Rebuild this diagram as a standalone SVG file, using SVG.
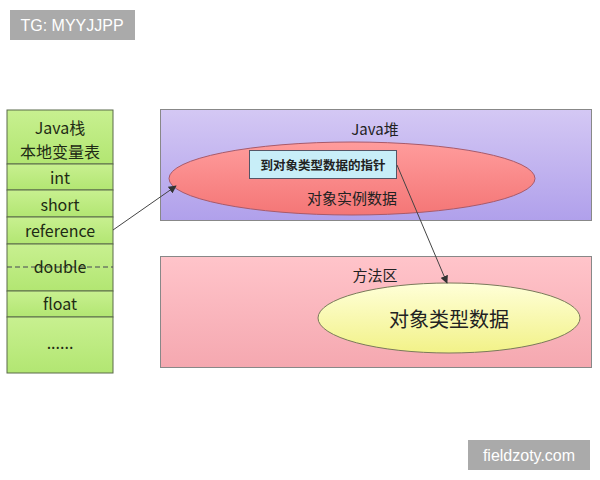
<svg xmlns="http://www.w3.org/2000/svg" width="600" height="480" viewBox="0 0 600 480">
<defs>
<linearGradient id="gHeap" x1="0" y1="0" x2="0" y2="1"><stop offset="0" stop-color="#d4c8f4"/><stop offset="1" stop-color="#b0a0eb"/></linearGradient>
<linearGradient id="gMeth" x1="0" y1="0" x2="0" y2="1"><stop offset="0" stop-color="#ffc4ca"/><stop offset="1" stop-color="#f5a8b0"/></linearGradient>
<linearGradient id="gRed" x1="0" y1="0" x2="0" y2="1"><stop offset="0" stop-color="#ff9c9c"/><stop offset="1" stop-color="#f47676"/></linearGradient>
<linearGradient id="gYel" x1="0" y1="0" x2="0" y2="1"><stop offset="0" stop-color="#ffffd8"/><stop offset="1" stop-color="#f2f288"/></linearGradient>
<linearGradient id="gGreen" x1="0" y1="0" x2="0" y2="1"><stop offset="0" stop-color="#c8f090"/><stop offset="1" stop-color="#b2e672"/></linearGradient>
<marker id="arr" viewBox="0 0 10 10" refX="9" refY="5" markerWidth="8" markerHeight="8" orient="auto" markerUnits="userSpaceOnUse"><path d="M0,0 L10,5 L0,10 z" fill="#333"/></marker>
</defs>
<style>
text{font-family:"Noto Sans CJK SC","Noto Sans",sans-serif;fill:#222;text-anchor:middle;dominant-baseline:central}
.cell{fill:url(#gGreen);stroke:#5a6a4a;stroke-width:1}
.st{font-size:16px;fill:#1e2a14}
.wm{fill:#aaaaaa}
.wt{font-family:"Liberation Sans",Arial,sans-serif;fill:#fff;font-size:16px}
.conn{stroke:#444;stroke-width:1;fill:none;marker-end:url(#arr)}
</style>
<g id="watermark-tg"><rect class="wm" x="10" y="10" width="125" height="30"/><text class="wt" x="72" y="25.5">TG: MYYJJPP</text></g>
<g id="watermark-site"><rect class="wm" x="468" y="440" width="122" height="30"/><text class="wt" x="529" y="455.5">fieldzoty.com</text></g>
<g id="stack">
<rect class="cell" x="7" y="110" width="106" height="54"/>
<text class="st" x="60" y="127">Java栈</text>
<text class="st" x="60" y="151">本地变量表</text>
<rect class="cell" x="7" y="164" width="106" height="26"/><text class="st" x="60" y="177">int</text>
<rect class="cell" x="7" y="190" width="106" height="27"/><text class="st" x="60" y="203.5">short</text>
<rect class="cell" x="7" y="217" width="106" height="27"/><text class="st" x="60" y="230">reference</text>
<rect class="cell" x="7" y="244" width="106" height="47"/>
<line x1="7" y1="267" x2="113" y2="267" stroke="#445" stroke-dasharray="5,3"/>
<text class="st" x="60" y="266">double</text>
<rect class="cell" x="7" y="291" width="106" height="26"/><text class="st" x="60" y="303">float</text>
<rect class="cell" x="7" y="317" width="106" height="56"/><text class="st" x="60" y="342">......</text>
</g>
<g id="heap">
<rect x="160.5" y="109.5" width="431" height="111" fill="url(#gHeap)" stroke="#888"/>
<text x="375" y="128" font-size="15">Java堆</text>
</g>
<g id="instance">
<ellipse cx="352" cy="178.5" rx="183" ry="36.5" fill="url(#gRed)" stroke="#a85a6a"/>
<text x="352" y="197" font-size="15">对象实例数据</text>
</g>
<g id="pointer">
<rect x="249.5" y="150.5" width="147" height="28" fill="#c8eef8" stroke="#556"/>
<text x="323" y="164" font-size="12.5" font-weight="bold">到对象类型数据的指针</text>
</g>
<g id="method">
<rect x="160.5" y="256.5" width="431" height="111" fill="url(#gMeth)" stroke="#888"/>
<text x="375" y="274" font-size="15">方法区</text>
</g>
<g id="typedata">
<ellipse cx="449" cy="318" rx="131" ry="35" fill="url(#gYel)" stroke="#7a7a5a"/>
<text x="449" y="318" font-size="20">对象类型数据</text>
</g>
<g id="connectors">
<line class="conn" x1="113" y1="230" x2="176" y2="186"/>
<line class="conn" x1="397" y1="165" x2="447" y2="283"/>
</g>
</svg>
